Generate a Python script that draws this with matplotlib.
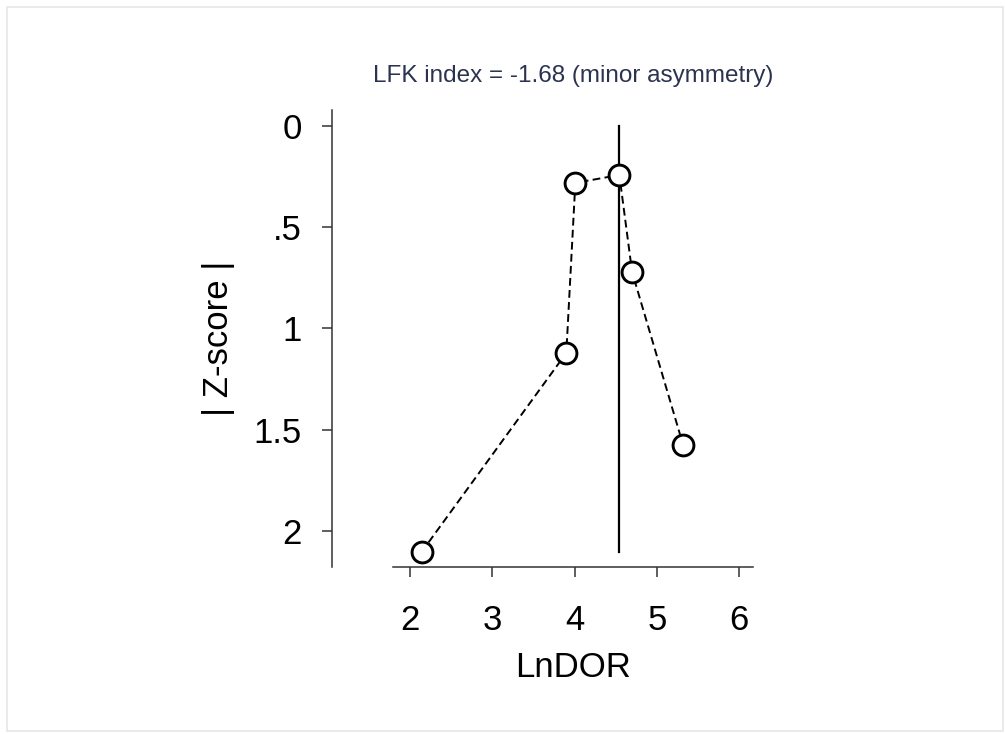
import matplotlib
matplotlib.use("Agg")
import matplotlib.pyplot as plt
from matplotlib.patches import Rectangle

plt.rcParams["font.family"] = ["Liberation Sans", "DejaVu Sans"]

# study effect sizes (LnDOR) and their |Z| ranks, ordered by effect
ln_dor = [2.14, 3.90, 4.01, 4.545, 4.70, 5.32]
z_abs = [2.104, 1.121, 0.281, 0.242, 0.721, 1.575]

x_ticks = [2, 3, 4, 5, 6]
y_ticks = [0, 0.5, 1, 1.5, 2]
y_tick_labels = ["0", ".5", "1", "1.5", "2"]
lfk_text = "LFK index = -1.68 (minor asymmetry)"

W, H = 1005, 734
fig = plt.figure(figsize=(W / 100, H / 100), dpi=100)
fig.patch.set_facecolor("white")

# thin grey frame around the whole graph
fig.patches.append(Rectangle((7 / W, 3 / H), 996 / W, 724 / H,
                             transform=fig.transFigure, fill=False,
                             edgecolor="#e3e8e8", linewidth=1.2))

ax = fig.add_axes([393 / W, 1 - 567 / H, 360 / W, 457 / H])

# vertical reference at the study closest to zero |Z|
i_min = z_abs.index(min(z_abs))
ax.plot([ln_dor[i_min], ln_dor[i_min]], [0, max(z_abs)], color="black",
        lw=1.6, zorder=2)

ax.plot(ln_dor, z_abs, color="black", lw=1.4, linestyle=(0, (4, 2.2)),
        zorder=3)
ax.plot(ln_dor, z_abs, linestyle="none", marker="o", markersize=15,
        markerfacecolor="white", markeredgecolor="black",
        markeredgewidth=2.1, zorder=4)

ax.set_xlim(1.793, 6.17)
ax.set_ylim(2.178, -0.079)

ax.set_xticks(x_ticks)
ax.set_yticks(y_ticks)
ax.set_yticklabels(y_tick_labels)

for side in ["top", "right"]:
    ax.spines[side].set_visible(False)
ax.spines["left"].set_position(("outward", 44))
for side in ["left", "bottom"]:
    ax.spines[side].set_linewidth(1.1)
    ax.spines[side].set_color("#333333")

ax.tick_params(axis="both", length=7.5, width=1.1, color="#333333",
               labelsize=25)
ax.tick_params(axis="y", pad=14)
ax.tick_params(axis="x", pad=19)

ax.set_xlabel("LnDOR", fontsize=25, labelpad=10)
ax.set_ylabel("| Z-score |", fontsize=25)
ax.yaxis.set_label_coords(-0.44, 0.5)
ax.set_title(lfk_text, fontsize=17.5, color="#2b3350", pad=20)

fig.savefig("out.png", dpi=100, facecolor="white")
